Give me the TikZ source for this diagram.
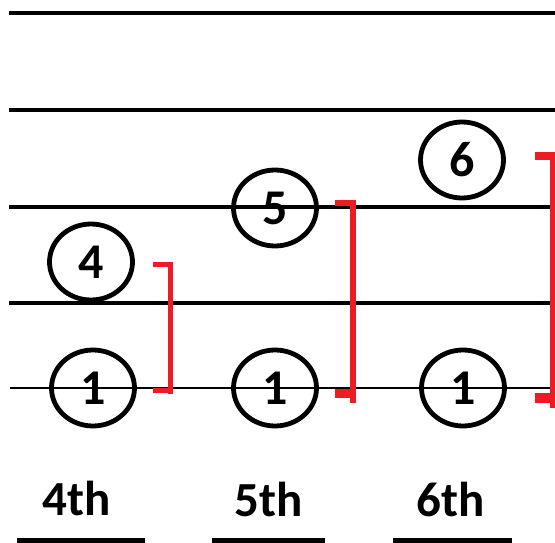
\documentclass[tikz,border=0pt]{standalone}
\usepackage{fontspec}
\setmainfont{Carlito}
\usetikzlibrary{shapes.geometric}
\definecolor{brk}{RGB}{237,28,36}
\tikzset{
  staff/.style={line width=4pt},
  staffthin/.style={line width=2.5pt},
  note/.style={ellipse, draw, line width=4.8pt, minimum width=83pt, minimum height=76pt, inner sep=0pt, font=\fontsize{50}{50}\selectfont\bfseries},
  lbl/.style={inner sep=0pt, font=\fontsize{49}{49}\selectfont\bfseries},
  uline/.style={line width=6pt},
  brkv/.style={brk, line width=5pt},
  brkt/.style={brk, line width=6pt},
}
\begin{document}
\begin{tikzpicture}[x=1pt,y=-1pt]
\useasboundingbox (0,0) rectangle (555,543);
% staff lines
\coordinate (s1a) at (9,13);   \coordinate (s1b) at (555,13);
\coordinate (s2a) at (9,110);  \coordinate (s2b) at (555,110);
\coordinate (s3a) at (9,207);  \coordinate (s3b) at (555,207);
\coordinate (s4a) at (9,303);  \coordinate (s4b) at (555,303);
\coordinate (s5a) at (10,388); \coordinate (s5b) at (555,388);
\draw[staff] (s1a) -- (s1b);
\draw[staff] (s2a) -- (s2b);
\draw[staff] (s3a) -- (s3b);
\draw[staff] (s4a) -- (s4b);
\draw[staffthin] (s5a) -- (s5b);
% notes
\node[note] (n4) at (91,262) {4};
\node[note] (r1) at (93,388) {1};
\node[note] (n5) at (275,208) {5};
\node[note] (r2) at (275,388) {1};
\node[note] (n6) at (462,160) {6};
\node[note] (r3) at (463,388) {1};
% brackets
\coordinate (b1t) at (153,264); \coordinate (b1tr) at (170.5,264);
\coordinate (b1b) at (153,390); \coordinate (b1br) at (170.5,390);
\draw[brkv] (170.5,261.5) -- (170.5,394);
\draw[brk, line width=5pt] (b1t) -- (b1tr);
\draw[brk, line width=5pt] (b1b) -- (b1br);
\coordinate (b2t) at (335,203); \coordinate (b2tr) at (355,203);
\coordinate (b2b) at (335,393); \coordinate (b2br) at (355,393);
\draw[brkv, line width=5.5pt] (353,200) -- (353,403);
\draw[brkt] (b2t) -- (b2tr);
\draw[brk, line width=9pt] (b2b) -- (b2br);
\coordinate (b3t) at (535,156); \coordinate (b3tr) at (554,156);
\coordinate (b3b) at (535,398); \coordinate (b3br) at (554,398);
\draw[brkv] (552.5,152) -- (552.5,408);
\draw[brk, line width=8pt] (b3t) -- (b3tr);
\draw[brk, line width=10pt] (b3b) -- (b3br);
% labels
\node[lbl] (l4) at (77,498) {4th};
\node[lbl] (l5) at (269,499) {5th};
\node[lbl] (l6) at (451,499) {6th};
\coordinate (u1a) at (17,541); \coordinate (u1b) at (145,541);
\coordinate (u2a) at (212,541); \coordinate (u2b) at (325,541);
\coordinate (u3a) at (393,541); \coordinate (u3b) at (512,541);
\draw[uline] (u1a) -- (u1b);
\draw[uline] (u2a) -- (u2b);
\draw[uline] (u3a) -- (u3b);
\end{tikzpicture}
\end{document}
